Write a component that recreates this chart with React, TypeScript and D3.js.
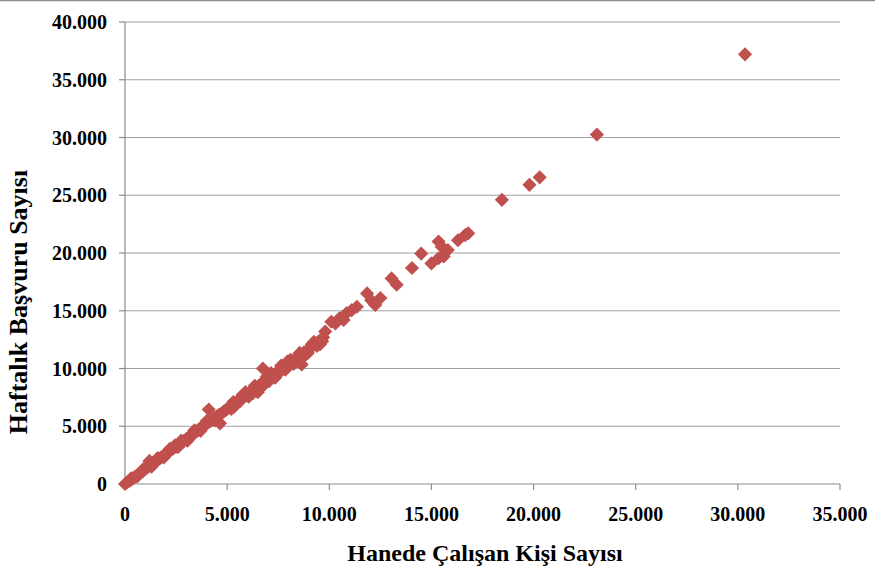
import React from 'react';
import * as d3 from 'd3';

// Hanede çalışan kişi sayısı (x) vs haftalık başvuru sayısı (y)
const lowBand: [number, number][] = [
  [0, 0], [120, 150], [250, 300], [300, 500], [380, 470], [500, 640], [600, 650], [620, 790],
  [750, 950], [880, 1120], [900, 1300], [1000, 1300], [1120, 1450], [1200, 2000], [1260, 1620],
  [1300, 1500], [1350, 1760], [1450, 1880], [1550, 2000], [1600, 2250], [1650, 2150], [1750, 2280],
  [1850, 2400], [1900, 2300], [1950, 2550], [2050, 2680], [2150, 2800], [2200, 3050], [2250, 2950],
  [2350, 3050], [2450, 3350], [2500, 3220], [2600, 3380], [2600, 3200], [2700, 3500], [2750, 3750],
  [2800, 3650], [2900, 3760], [3000, 3900], [3050, 3750], [3100, 3850], [3150, 4100], [3250, 4250],
  [3350, 4380], [3400, 4650], [3450, 4480], [3550, 4620], [3650, 4780], [3700, 4600], [3750, 4900],
  [3850, 5020], [3950, 5150], [4000, 5450], [4050, 5280], [4100, 6450], [4200, 5450], [4300, 5600],
  [4400, 5720], [4400, 5500], [4500, 5850], [4650, 5250], [4600, 5980], [4750, 6150], [4850, 6300],
  [4950, 6420],
];

const midBand: [number, number][] = [
  [5050, 6560], [5150, 6700], [5200, 6500], [5250, 6830], [5300, 7100], [5350, 6700], [5400, 7000],
  [5500, 7150], [5600, 7280], [5650, 7200], [5700, 7420], [5750, 7700], [5850, 7600], [5900, 7950],
  [5950, 7720], [6050, 7550], [6100, 7900], [6200, 8050], [6250, 7850], [6300, 8200], [6350, 8500],
  [6400, 8320], [6500, 7950], [6550, 8500], [6650, 8650], [6700, 8400], [6750, 10000], [6800, 8850],
  [6900, 8980], [6950, 9300], [7000, 9100], [7050, 8900], [7100, 9230], [7150, 9600], [7250, 9400],
  [7350, 9200], [7400, 9620], [7450, 9450], [7500, 9750], [7600, 9880], [7650, 10250], [7700, 10020],
  [7800, 10150], [7850, 9900], [7900, 10280], [7950, 10600], [8050, 10450], [8100, 10750],
  [8150, 10600], [8250, 10400], [8300, 10780], [8400, 10920], [8450, 10650], [8500, 11060],
  [8550, 11350], [8600, 11200], [8650, 10350], [8750, 11380], [8850, 11200], [8900, 11550],
  [8950, 11350], [9000, 11700], [9100, 11830], [9150, 12100], [9200, 11960], [9250, 12300],
  [9350, 12150], [9400, 11950], [9450, 12280], [9550, 12100], [9600, 12500], [9650, 12350],
  [9700, 12700], [9800, 13200],
];

const upperPoints: [number, number][] = [
  [10100, 14050], [10300, 13900], [10500, 14350], [10700, 14200], [10850, 14800],
  [11100, 15050], [11350, 15350], [11850, 16500], [12050, 15900], [12250, 15500],
  [12500, 16100], [13050, 17800], [13300, 17250], [14050, 18700], [14500, 19950],
  [15000, 19100], [15350, 21000], [15500, 20550], [15350, 19550], [15600, 19700],
  [15800, 20250], [16300, 21100], [16650, 21550], [16800, 21700], [18450, 24600],
  [19800, 25900], [20300, 26550], [23100, 30250], [30350, 37200],
];

const xTicks = [0, 5000, 10000, 15000, 20000, 25000, 30000, 35000];
const yTicks = [0, 5000, 10000, 15000, 20000, 25000, 30000, 35000, 40000];

const xTitle = 'Hanede Çalışan Kişi Sayısı';
const yTitle = 'Haftalık Başvuru Sayısı';

const W = 875;
const H = 573;
const font = '"Liberation Serif", "Times New Roman", serif';

const trLocale = d3.formatLocale({ decimal: ',', thousands: '.', grouping: [3], currency: ['', ''] });
const fmt = trLocale.format(',d');

export default function App() {
  const x = d3.scaleLinear().domain([0, 35000]).range([125, 840]);
  const y = d3.scaleLinear().domain([0, 40000]).range([484, 22]);
  const diamond = d3.symbol().type(d3.symbolSquare).size(100)();
  const points = [...lowBand, ...midBand, ...upperPoints];

  const gridColor = '#a0a0a0';
  const axisColor = '#8c8c8c';

  return (
    <svg width={W} height={H} style={{ position: 'absolute', left: 0, top: 0, background: '#fff' }}>
      <line x1={0} x2={W} y1={0.5} y2={0.5} stroke={axisColor} strokeWidth={1.5} />

      {/* gridlines */}
      {yTicks.filter((t) => t > 0).map((t) => (
        <line key={'g' + t} x1={x(0)} x2={x(35000)} y1={y(t)} y2={y(t)} stroke={gridColor} strokeWidth={1.2} />
      ))}

      {/* axes */}
      <line x1={x(0)} x2={x(0)} y1={y(40000)} y2={y(0) + 6} stroke={axisColor} strokeWidth={1.2} />
      <line x1={x(0)} x2={x(35000)} y1={y(0)} y2={y(0)} stroke={axisColor} strokeWidth={1.2} />
      {yTicks.map((t) => (
        <line key={'yt' + t} x1={x(0) - 6} x2={x(0)} y1={y(t)} y2={y(t)} stroke={axisColor} strokeWidth={1.2} />
      ))}
      {xTicks.map((t) => (
        <line key={'xt' + t} x1={x(t)} x2={x(t)} y1={y(0)} y2={y(0) + 6} stroke={axisColor} strokeWidth={1.2} />
      ))}

      {/* tick labels */}
      {yTicks.map((t) => (
        <text key={'yl' + t} x={107} y={y(t)} dy="0.35em" textAnchor="end"
          fontFamily={font} fontWeight="bold" fontSize={20} fill="#000">
          {fmt(t)}
        </text>
      ))}
      {xTicks.map((t) => (
        <text key={'xl' + t} x={x(t)} y={521} textAnchor="middle"
          fontFamily={font} fontWeight="bold" fontSize={20} fill="#000">
          {fmt(t)}
        </text>
      ))}

      {/* markers */}
      {points.map(([a, b], i) => (
        <path key={i} d={diamond!} transform={`translate(${x(a)},${y(b)}) rotate(45)`} fill="#C0504D" />
      ))}

      {/* titles */}
      <text x={485} y={561} textAnchor="middle" fontFamily={font} fontWeight="bold" fontSize={24} fill="#000">
        {xTitle}
      </text>
      <text transform="translate(27,302) rotate(-90)" textAnchor="middle" fontFamily={font}
        fontWeight="bold" fontSize={26} fill="#000">
        {yTitle}
      </text>
    </svg>
  );
}
